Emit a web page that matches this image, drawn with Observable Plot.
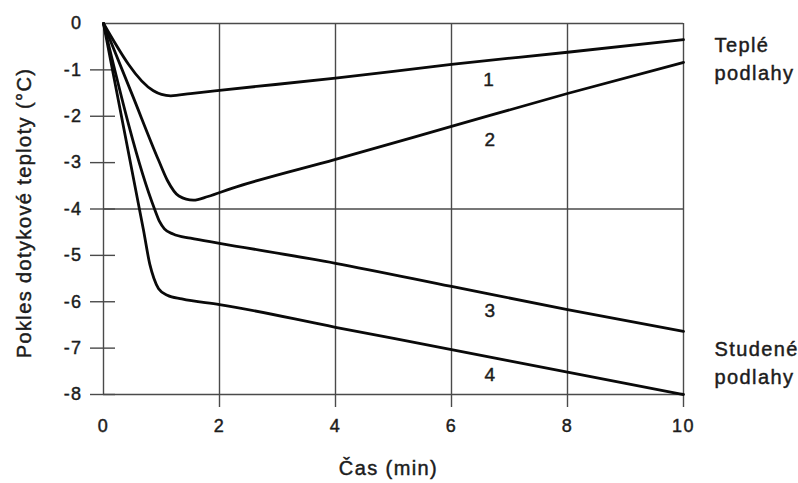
<!DOCTYPE html>
<html>
<head>
<meta charset="utf-8">
<script src="https://cdn.jsdelivr.net/npm/d3@7"></script>
<script src="https://cdn.jsdelivr.net/npm/@observablehq/plot@0.6"></script>
<style>
  html, body { margin: 0; padding: 0; background: #fff; }
  #chart svg text { letter-spacing: 1.4px; stroke: #1c1c1c; stroke-width: 0.45px; }
</style>
</head>
<body>
<div id="chart"></div>
<script>
// Series data: time (min) and drop of contact temperature (°C)
const seriesNames = ["1", "2", "3", "4"];
const time1 = [0, 0.86, 1.0, 1.16, 1.5, 2, 4, 6, 8, 10];
const drop1 = [0, -1.45, -1.53, -1.56, -1.51, -1.44, -1.18, -0.88, -0.62, -0.35];
const time2 = [0, 0.5, 0.95, 1.1, 1.3, 1.55, 1.8, 2.2, 4, 6, 8, 10];
const drop2 = [0, -1.55, -2.95, -3.38, -3.72, -3.81, -3.73, -3.56, -2.93, -2.22, -1.51, -0.84];
const time3 = [0, 0.88, 0.97, 1.05, 1.2, 1.5, 2, 4, 6, 8, 10];
const drop3 = [0, -4.0, -4.28, -4.43, -4.54, -4.63, -4.74, -5.17, -5.67, -6.17, -6.64];
const time4 = [0, 0.69, 0.8, 0.87, 0.95, 1.1, 1.35, 2, 4, 6, 8, 10];
const drop4 = [0, -4.46, -5.2, -5.5, -5.72, -5.86, -5.94, -6.06, -6.55, -7.03, -7.52, -8.0];

// Curve number labels
const curveLabels = ["1", "2", "3", "4"];
const curveLabelTime = [6.65, 6.67, 6.67, 6.67];
const curveLabelDrop = [-1.21, -2.51, -6.2, -7.58];

// Side labels
const floorLabels = ["Teplé\npodlahy", "Studené\npodlahy"];
const floorLabelTime = [10, 10];
const floorLabelDrop = [-0.72, -7.28];

// Axes
const xTickLabels = [0, 2, 4, 6, 8, 10];
const xTickMarks = [2, 4, 6, 8, 10];
const xGrid = [2, 4, 6, 8];
const yTickLabels = [0, -1, -2, -3, -4, -5, -6, -7, -8];
const yTickMarks = [-1, -2, -3, -4, -5, -6, -7, -8];
const yGrid = [-4];
const xTitle = "Čas (min)";
const yTitle = "Pokles dotykové teploty (°C)";

const times = [time1, time2, time3, time4];
const drops = [drop1, drop2, drop3, drop4];
const rows = seriesNames.flatMap((s, i) => times[i].map((t, j) => ({series: s, t, v: drops[i][j]})));
const curveLabelRows = curveLabels.map((l, i) => ({l, t: curveLabelTime[i], v: curveLabelDrop[i]}));
const floorRows = floorLabels.map((l, i) => ({l, t: floorLabelTime[i], v: floorLabelDrop[i]}));

const gridColor = "#4a4a4a";
const textColor = "#1c1c1c";
const font = "'Liberation Sans', Arial, sans-serif";
const plain = d => String(d);

const chart = Plot.plot({
  width: 798,
  height: 483,
  marginLeft: 103,
  marginRight: 115,
  marginTop: 23,
  marginBottom: 89,
  style: {fontFamily: font, fontSize: "18px", color: textColor, background: "#fff"},
  x: {domain: [0, 10]},
  y: {domain: [-8, 0]},
  marks: [
    Plot.gridX(xGrid, {stroke: gridColor, strokeOpacity: 1, strokeWidth: 1.4}),
    Plot.gridY(yGrid, {stroke: gridColor, strokeOpacity: 1, strokeWidth: 1.4}),
    Plot.ruleX([0, 10], {stroke: gridColor, strokeWidth: 1.4}),
    Plot.ruleY([0, -8], {stroke: gridColor, strokeWidth: 1.4}),
    Plot.axisX(xTickMarks, {tickSize: 13, tickFormat: () => "", stroke: gridColor, strokeWidth: 1.4, label: null}),
    Plot.axisX(xTickLabels, {tickSize: 0, tickPadding: 25, tickFormat: plain, fontSize: 18, fill: textColor, label: null}),
    Plot.axisY(yTickMarks, {tickSize: 25, dx: 12, tickFormat: () => "", stroke: gridColor, strokeWidth: 1.4, label: null}),
    Plot.axisY(yTickLabels, {tickSize: 0, tickPadding: 21, tickFormat: plain, fontSize: 18, fill: textColor, label: null}),
    Plot.line(rows, {x: "t", y: "v", z: "series", curve: "monotone-x", stroke: "#0a0a0a", strokeWidth: 2.8, strokeLinejoin: "round"}),
    Plot.text(curveLabelRows, {x: "t", y: "v", text: "l", fontSize: 19, fill: textColor}),
    Plot.text(floorRows, {x: "t", y: "v", text: "l", dx: 31, textAnchor: "start", lineHeight: 1.4, fontSize: 20, fill: textColor}),
    Plot.text([xTitle], {frameAnchor: "bottom", text: d => d, textAnchor: "middle", dx: -5, dy: 80, fontSize: 20, fill: textColor}),
    Plot.text([yTitle], {frameAnchor: "left", text: d => d, textAnchor: "middle", rotate: -90, dx: -79, dy: 4, fontSize: 20, fill: textColor})
  ]
});
document.getElementById("chart").appendChild(chart);
</script>
</body>
</html>
